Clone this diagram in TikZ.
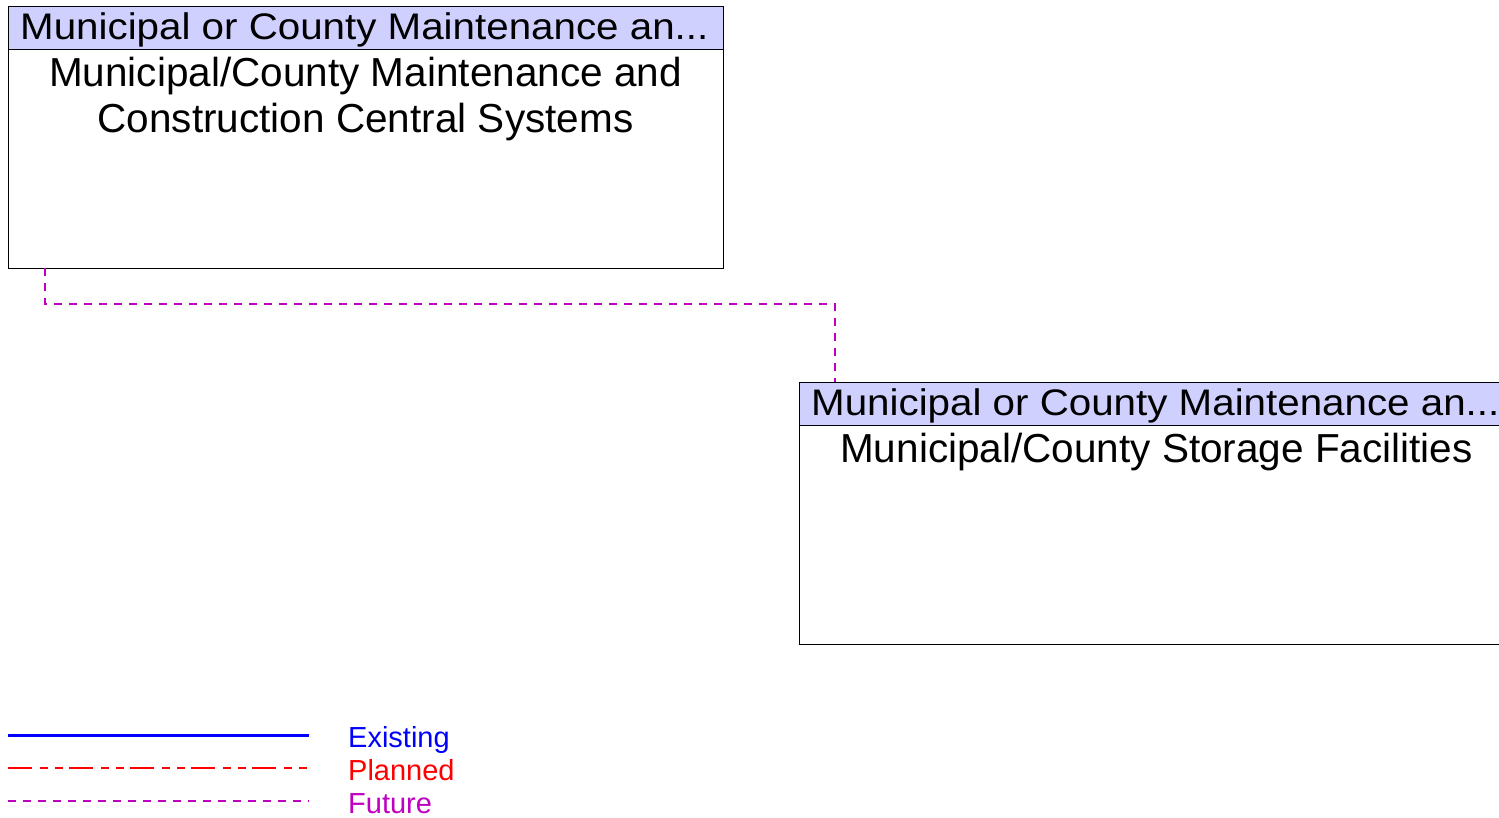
\documentclass[tikz,border=0pt]{standalone}
\usepackage{fontspec}
\setmainfont{Liberation Sans}
\newfontfamily\headfont[FakeStretch=1.09]{Liberation Sans}
\usetikzlibrary{positioning}
\definecolor{headfill}{HTML}{D0D0FF}
\definecolor{future}{HTML}{C000C0}

\begin{document}
\begin{tikzpicture}[
  x=1pt, y=-1pt,
  headbox/.style={rectangle, draw, fill=headfill, minimum width=715pt,
                  minimum height=43pt, outer sep=0pt, inner sep=0pt, line width=1pt},
  bodybox/.style={rectangle, draw, fill=white, minimum width=715pt,
                  minimum height=219pt, outer sep=0pt, inner sep=0pt, line width=1pt},
  headtext/.style={font=\headfont\fontsize{37}{40}\selectfont, inner sep=0pt,
                   anchor=west, yshift=-2pt},
  bodytext/.style={font=\fontsize{40.5}{45.5}\selectfont, align=center, inner sep=0pt},
  legendtext/.style={font=\fontsize{29}{34}\selectfont, inner sep=0pt, anchor=base west},
  existing/.style={blue, line width=3pt},
  planned/.style={red, line width=1.2pt,
                  dash pattern=on 24pt off 8pt on 8pt off 7pt on 8pt off 6pt},
  futureline/.style={future, line width=1.2pt, dash pattern=on 8pt off 7pt},
]
\useasboundingbox (0,0) rectangle (1499,817);

% central systems
\node[headbox, anchor=north west] (head1) at (8,6) {};
\node[bodybox, below=0pt of head1] (body1) {};
\node[headtext] (head1txt) at ([xshift=12pt]head1.west) {Municipal or County Maintenance an...};
\node[bodytext, below=8pt of head1] (body1txt) {Municipal/County Maintenance and\\Construction Central Systems};

% storage facilities
\node[headbox, anchor=north west] (head2) at (799,382) {};
\node[bodybox, below=0pt of head2] (body2) {};
\node[headtext] (head2txt) at ([xshift=12pt]head2.west) {Municipal or County Maintenance an...};
\node[bodytext, below=8pt of head2] (body2txt) {Municipal/County Storage Facilities};

\draw[futureline] ([xshift=37pt]body1.south west) -- ++(0,36) -| ([xshift=36pt]head2.north west);

% legend
\coordinate (exA) at (8,735);   \coordinate (exB) at (309,735);
\coordinate (plA) at (8,768);   \coordinate (plB) at (309,768);
\coordinate (fuA) at (8,801);   \coordinate (fuB) at (309,801);
\draw[existing] (exA) -- (exB);
\draw[planned] (plA) -- (plB);
\draw[futureline] (fuA) -- (fuB);
\node[legendtext, text=blue] (lexisting) at (348,747) {Existing};
\node[legendtext, text=red] (lplanned) at (348,780) {Planned};
\node[legendtext, text=future] (lfuture) at (348,813) {Future};

\end{tikzpicture}
\end{document}
